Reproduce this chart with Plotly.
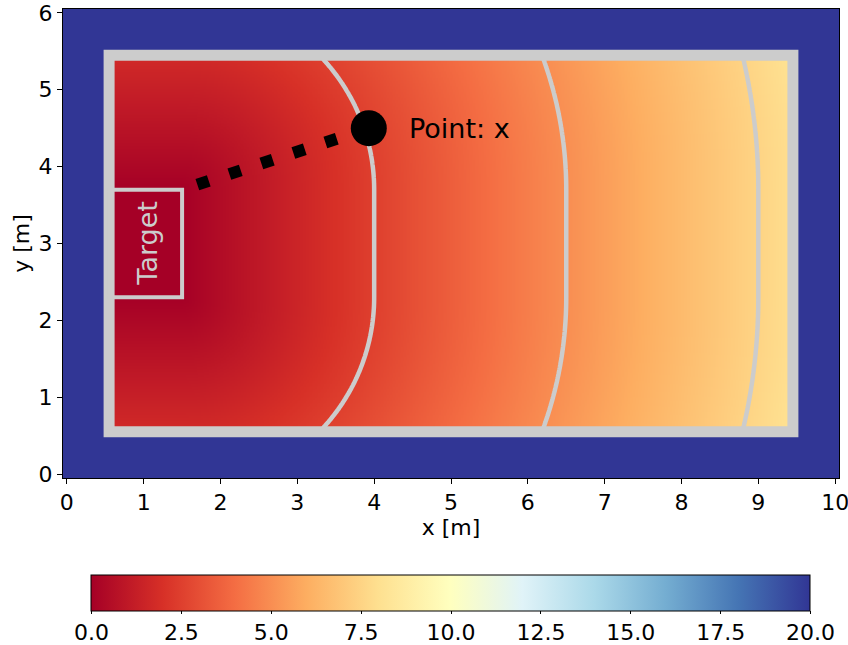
import numpy as np
import plotly.graph_objects as go

# ---- data ----
ROOM_X = [0.55, 9.45]          # wall centre-lines
ROOM_Y = [0.55, 5.45]
TARGET_X = [0.55, 1.5]
TARGET_Y = [2.3, 3.7]
POINT_X = [3.93]
POINT_Y = [4.5]
POINT_LABEL = "Point: x"
CONTOUR_LEVELS = [2.5, 5.0, 7.5]
OUTSIDE_VALUE = 20.0
CBAR_RANGE = [0.0, 20.0]
CBAR_TICKS = [0.0, 2.5, 5.0, 7.5, 10.0, 12.5, 15.0, 17.5, 20.0]
X_TICKS = list(range(0, 11))
Y_TICKS = list(range(0, 7))
GRID_STEP = 0.02

# ---- distance field from the target ----
def dist_to_target(X, Y):
    dx = np.maximum(X - TARGET_X[1], 0.0)
    dy = np.maximum(np.maximum(TARGET_Y[0] - Y, Y - TARGET_Y[1]), 0.0)
    return np.sqrt(dx ** 2 + dy ** 2)

xs = np.round(np.arange(-0.04, 10.04 + 1e-9, GRID_STEP), 4)
ys = np.round(np.arange(-0.04, 6.04 + 1e-9, GRID_STEP), 4)
XX, YY = np.meshgrid(xs, ys)
inside = (XX >= ROOM_X[0]) & (XX <= ROOM_X[1]) & (YY >= ROOM_Y[0]) & (YY <= ROOM_Y[1])
Z = np.where(inside, dist_to_target(XX, YY), OUTSIDE_VALUE)

cxs = np.round(np.arange(0.6, 9.4 + 1e-9, GRID_STEP), 4)
cys = np.round(np.arange(0.6, 5.4 + 1e-9, GRID_STEP), 4)
CX, CY = np.meshgrid(cxs, cys)
CZ = dist_to_target(CX, CY)

FONT = "DejaVu Sans"
GRAY = "#cccccc"
TICK_SIZE = 22

fig = go.Figure()
fig.add_trace(go.Heatmap(
    x=xs, y=ys, z=Z, zmin=CBAR_RANGE[0], zmax=CBAR_RANGE[1],
    colorscale="RdYlBu", hoverinfo="skip",
    colorbar=dict(
        orientation="h", x=0.5, xanchor="center", y=-0.207, yanchor="top",
        len=0.9265, lenmode="fraction", thickness=36, xpad=0, ypad=0,
        outlinewidth=1, outlinecolor="black",
        ticks="outside", ticklen=3, tickwidth=1, tickcolor="black",
        ticklabeloverflow="allow",
        tickvals=CBAR_TICKS, ticktext=[f"{v:.1f}" for v in CBAR_TICKS],
        tickfont=dict(family=FONT, size=TICK_SIZE, color="black"),
    ),
))
fig.add_trace(go.Contour(
    x=cxs, y=cys, z=CZ, showscale=False, hoverinfo="skip",
    contours=dict(start=CONTOUR_LEVELS[0], end=CONTOUR_LEVELS[-1],
                  size=CONTOUR_LEVELS[1] - CONTOUR_LEVELS[0], coloring="none"),
    line=dict(color=GRAY, width=4.5, smoothing=1),
))
# dotted path from the point to the nearest target corner
fig.add_trace(go.Scatter(
    x=[POINT_X[0], TARGET_X[1]], y=[POINT_Y[0], TARGET_Y[1]], mode="lines",
    line=dict(color="black", width=12, dash="12px,21.7px"), hoverinfo="skip",
))
fig.add_trace(go.Scatter(
    x=POINT_X, y=POINT_Y, mode="markers",
    marker=dict(size=36, color="black", line=dict(width=0)), hoverinfo="skip",
))

fig.add_shape(type="rect", x0=ROOM_X[0], x1=ROOM_X[1], y0=ROOM_Y[0], y1=ROOM_Y[1],
              line=dict(color=GRAY, width=11), layer="above")
fig.add_shape(type="rect", x0=TARGET_X[0], x1=TARGET_X[1], y0=TARGET_Y[0], y1=TARGET_Y[1],
              line=dict(color=GRAY, width=4), layer="above")

fig.add_annotation(x=(TARGET_X[0] + TARGET_X[1]) / 2 + 0.02, y=sum(TARGET_Y) / 2,
                   text="Target", textangle=-90, showarrow=False,
                   font=dict(family=FONT, size=27, color=GRAY))
fig.add_annotation(x=POINT_X[0] + 0.5, y=POINT_Y[0], text=POINT_LABEL, showarrow=False,
                   xanchor="left", yanchor="middle",
                   font=dict(family=FONT, size=27, color="black"))

axis_common = dict(
    showgrid=False, zeroline=False, showline=True, mirror=True,
    linecolor="black", linewidth=1, ticks="outside", ticklen=5,
    tickwidth=1, tickcolor="black", automargin=False,
    ticklabeloverflow="allow",
    tickfont=dict(family=FONT, size=TICK_SIZE, color="black"),
)
fig.update_xaxes(range=[-0.05, 10.05], tickvals=X_TICKS,
                 title=dict(text="x [m]", font=dict(family=FONT, size=TICK_SIZE, color="black"), standoff=2),
                 **axis_common)
fig.update_yaxes(range=[-0.05, 6.05], tickvals=Y_TICKS,
                 title=dict(text="y [m]", font=dict(family=FONT, size=TICK_SIZE, color="black"), standoff=2),
                 **axis_common)

fig.update_layout(
    width=848, height=645,
    margin=dict(l=63, r=9, t=9, b=167, autoexpand=False),
    paper_bgcolor="white", plot_bgcolor="white",
    showlegend=False,
    font=dict(family=FONT, color="black"),
)
fig.write_html("out.html", config={"displayModeBar": False},
               post_script="document.body.style.margin='0';document.body.style.overflow='hidden';")
